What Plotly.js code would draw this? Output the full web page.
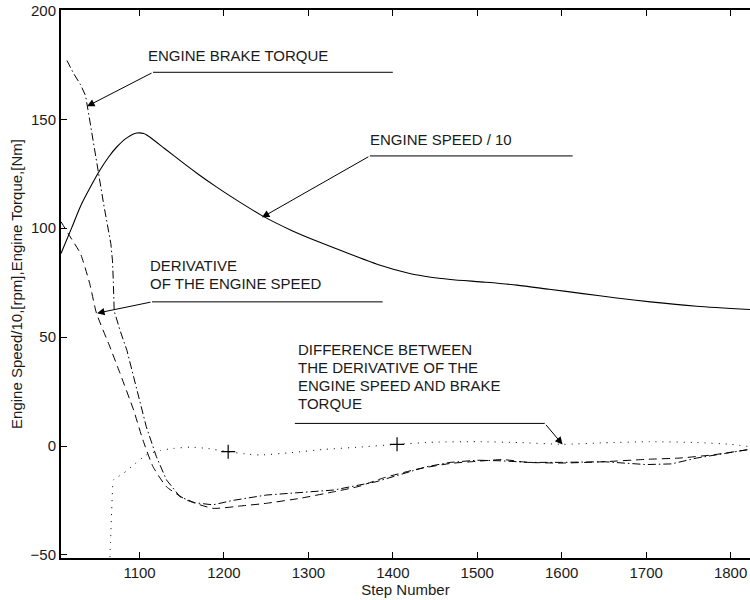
<!DOCTYPE html>
<html>
<head>
<meta charset="utf-8">
<script src="https://cdn.plot.ly/plotly-3.0.1.min.js"></script>
<style>html,body{margin:0;padding:0;background:#fff;}#chart{width:750px;height:600px;}</style>
</head>
<body>
<div id="chart"></div>
<script>
// Engine speed / 10 (solid)
var speedSteps = [1007,1020,1030,1042,1053,1063,1073,1085,1097,1105,1112,1130,1152,1170,1191,1215,1245,1280,1315,1349,1385,1420,1445,1468,1510,1547,1585,1625,1665,1705,1760,1823];
var speedVals  = [88.4,100.5,110,119,126.6,132.5,137.3,141.5,143.7,143.5,141.9,136.5,129.9,124.7,119,112.9,105.8,99,93.3,88.2,83,79.2,77.5,76.5,75.2,73.9,72,70,68,66.2,64.2,62.7];

// Engine brake torque (dash-dot)
var brakeSteps = [1014,1022,1030,1036,1040,1045,1050,1058,1066,1068,1069,1070,1077,1085,1097,1108,1120,1132,1148,1165,1187,1210,1250,1290,1330,1380,1410,1440,1468,1500,1530,1560,1600,1650,1700,1730,1760,1790,1823];
var brakeVals  = [177,171,166,161,152,140,128,110,93,85,75,62,53,44,25.7,8.9,-4.9,-15.6,-23.3,-26,-27,-25,-22.5,-21.3,-20.2,-16.4,-13,-9.5,-7.5,-6.5,-6.8,-7.5,-7.5,-7.2,-8.5,-8.2,-5.5,-3.5,-1.5];

// Derivative of the engine speed (dashed)
var derivSteps = [1007,1018,1030,1041,1049,1065,1077,1093,1104,1116,1132,1156,1187,1220,1250,1290,1330,1360,1390,1430,1468,1500,1530,1560,1600,1650,1700,1740,1780,1823];
var derivVals  = [103,96,88.4,74.6,61,45.5,33.3,16.5,2.8,-9.5,-18.7,-24.8,-28.6,-27.5,-26.3,-24,-21,-18.5,-14.5,-10.5,-8,-7,-6.2,-7.5,-7.8,-7.2,-6.1,-5.5,-4,-1.5];

// Difference between derivative and brake torque (dotted)
var diffSteps = [1065,1066,1067,1068,1069,1075,1081,1095,1108,1125,1140,1160,1180,1205,1225,1243,1280,1320,1360,1405,1450,1500,1550,1602,1650,1704,1760,1800,1823];
var diffVals  = [-51,-40,-30,-20,-15.6,-14,-12.5,-8,-4.1,-2,-1.1,-0.5,-1.1,-2.6,-3.6,-4.1,-3,-1.5,-0.5,0.8,1.8,2,1.6,0.8,1.5,2,1.6,0.8,-0.3];

// '+' markers on the difference curve
var markSteps = [1205,1405];
var markVals  = [-2.6,0.8];

var xTicks = [1100,1200,1300,1400,1500,1600,1700,1800];
var yTicks = [-50,0,50,100,150,200];

var FONT = 'Liberation Sans, Arial, Helvetica, sans-serif';

var traces = [
  {x: speedSteps, y: speedVals, mode:'lines', line:{color:'#000', width:1.1, shape:'spline', smoothing:0.7}, hoverinfo:'skip'},
  {x: brakeSteps, y: brakeVals, mode:'lines', line:{color:'#000', width:1, dash:'8px,3px,1.5px,3px'}, hoverinfo:'skip'},
  {x: derivSteps, y: derivVals, mode:'lines', line:{color:'#000', width:1, dash:'8px,5px', shape:'spline', smoothing:0.5}, hoverinfo:'skip'},
  {x: diffSteps, y: diffVals, mode:'lines', line:{color:'#000', width:1, dash:'1px,6px', shape:'spline', smoothing:0.5}, hoverinfo:'skip'},
  {x: markSteps, y: markVals, mode:'markers', marker:{symbol:'cross-thin-open', size:10, color:'#000', line:{color:'#000', width:1.2}}, hoverinfo:'skip'}
];

function txt(x, y, s) {
  return {x:x, y:y, xref:'x', yref:'y', text:s, showarrow:false, xanchor:'left', yanchor:'middle', align:'left',
          font:{family:FONT, size:15, color:'#1a1a1a'}};
}
function arr(tipX, tipY, tailX, tailY) {
  return {x:tipX, y:tipY, ax:tailX, ay:tailY, xref:'x', yref:'y', axref:'x', ayref:'y', text:'', showarrow:true,
          arrowhead:2, arrowsize:1.5, arrowwidth:1, arrowcolor:'#000', standoff:0, startstandoff:0};
}
function uline(x0, x1, y) {
  return {type:'line', xref:'x', yref:'y', x0:x0, x1:x1, y0:y, y1:y, line:{color:'#000', width:1}};
}

var annotations = [
  txt(1108, 179.4, 'ENGINE BRAKE TORQUE'),
  arr(1037.9, 156, 1116, 171.6),
  txt(1370, 140.8, 'ENGINE SPEED / 10'),
  arr(1245, 105, 1372.8, 133.2),
  txt(1110.4, 83, 'DERIVATIVE'),
  txt(1110.4, 74.8, 'OF THE ENGINE SPEED'),
  arr(1049.7, 61, 1114.8, 66.2),
  txt(1285, 44.4, 'DIFFERENCE BETWEEN'),
  txt(1285, 36.2, 'THE DERIVATIVE OF THE'),
  txt(1285, 27.9, 'ENGINE SPEED AND BRAKE'),
  txt(1285, 19.7, 'TORQUE'),
  arr(1601, 0.7, 1579.9, 10.4)
];

var shapes = [
  uline(1116, 1400, 171.6),
  uline(1372.8, 1613, 133.2),
  uline(1114.8, 1388, 66.2),
  uline(1284, 1579.9, 10.4)
];

var layout = {
  width:750, height:600,
  margin:{l:61, r:0, t:10, b:42, pad:0},
  paper_bgcolor:'#fff', plot_bgcolor:'#fff',
  showlegend:false,
  font:{family:FONT, size:15, color:'#1a1a1a'},
  xaxis:{range:[1007,1823], tickvals:xTicks, ticktext:xTicks.map(String), ticks:'inside', ticklen:6, tickwidth:1, tickcolor:'#000',
         showline:true, linecolor:'#000', linewidth:2, mirror:'ticks', showgrid:false, zeroline:false,
         tickfont:{family:FONT, size:15, color:'#1a1a1a'},
         title:{text:'Step Number', font:{family:FONT, size:15, color:'#1a1a1a'}, standoff:1}},
  yaxis:{range:[-51.4,200.2], tickvals:yTicks, ticktext:yTicks.map(function(v){return v<0?'\u2212'+Math.abs(v):String(v);}), ticks:'inside', ticklen:6, tickwidth:1, tickcolor:'#000',
         showline:true, linecolor:'#000', linewidth:2, mirror:false, showgrid:false, zeroline:false,
         tickfont:{family:FONT, size:15, color:'#1a1a1a'},
         title:{text:'Engine Speed/10,[rpm],Engine Torque,[Nm]', font:{family:FONT, size:15, color:'#1a1a1a'}, standoff:4}},
  annotations:annotations,
  shapes:shapes
};

Plotly.newPlot('chart', traces, layout, {staticPlot:true, displayModeBar:false});
</script>
</body>
</html>
